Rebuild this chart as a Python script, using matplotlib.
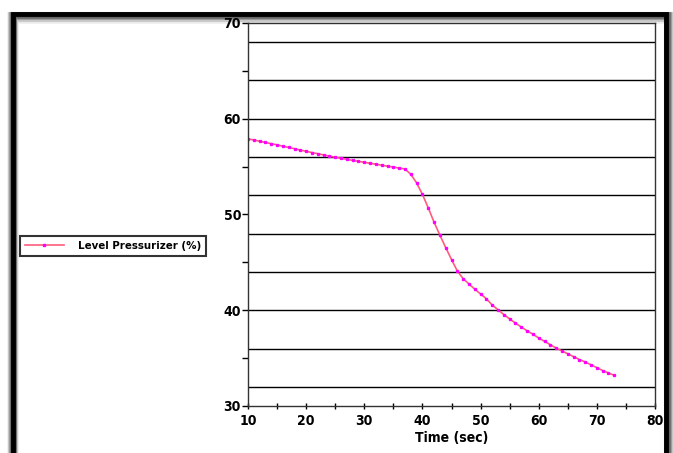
import matplotlib
matplotlib.use("Agg")
import matplotlib.pyplot as plt
from matplotlib.patches import Rectangle
from matplotlib.ticker import MultipleLocator

plt.rcParams['font.family'] = ['DejaVu Sans']
plt.rcParams['font.stretch'] = 'condensed'
plt.rcParams['font.weight'] = 'bold'

# Pressurizer level over time
time_sec = list(range(10, 74))
level_pct = [
    57.90, 57.78, 57.65, 57.52, 57.40, 57.27, 57.13, 57.00, 56.87, 56.73,
    56.60, 56.47, 56.35, 56.22, 56.10, 55.98, 55.87, 55.76, 55.65, 55.55,
    55.45, 55.35, 55.25, 55.15, 55.05, 54.95, 54.85, 54.75, 54.20, 53.30,
    52.10, 50.70, 49.20, 47.85, 46.55, 45.30, 44.10, 43.30, 42.75, 42.20,
    41.70, 41.20, 40.55, 40.05, 39.55, 39.10, 38.65, 38.25, 37.85, 37.50,
    37.10, 36.75, 36.40, 36.05, 35.75, 35.45, 35.15, 34.85, 34.60, 34.30,
    34.00, 33.70, 33.45, 33.20,
]
series_name = "Level Pressurizer (%)"
x_label = "Time (sec)"
grid_levels = [32, 36, 40, 44, 48, 52, 56, 60, 64, 68]

W, H = 673, 453
fig = plt.figure(figsize=(W / 100, H / 100), dpi=100)
fig.patch.set_facecolor('white')

# outer frame with soft shadow
for off, a in [(4, 0.08), (3, 0.14), (2, 0.22), (1, 0.35)]:
    fig.add_artist(Rectangle((13 / W, -0.1), (653 + off) / W, (439 + 0.1 * H - off) / H,
                             transform=fig.transFigure, fill=False,
                             edgecolor='black', alpha=a, linewidth=3.5 + off * 1.2))
fig.add_artist(Rectangle((13 / W, -0.1), 653 / W, (439 + 0.1 * H) / H,
                         transform=fig.transFigure, fill=False,
                         edgecolor='black', linewidth=3.5))

ax = fig.add_axes([248 / W, 1 - 406 / H, 407 / W, 383 / H])
ax.plot(time_sec, level_pct, color='#ff5c7c', linewidth=1.2,
        marker='s', markersize=1.4, markerfacecolor='#ff00ff',
        markeredgecolor='#ff00ff', label=series_name)

for g in grid_levels:
    ax.axhline(g, color='black', linewidth=1.0, zorder=0)

ax.set_xlim(10, 80)
ax.set_ylim(30, 70)
ax.xaxis.set_major_locator(MultipleLocator(10))
ax.xaxis.set_minor_locator(MultipleLocator(5))
ax.yaxis.set_major_locator(MultipleLocator(10))
ax.yaxis.set_minor_locator(MultipleLocator(5))
ax.tick_params(which='both', direction='inout', length=5, width=1, labelsize=10)
ax.tick_params(axis='y', which='both', direction='out', length=4)
ax.tick_params(axis='y', pad=1)
for lbl in ax.get_xticklabels() + ax.get_yticklabels():
    lbl.set_fontweight('bold')
for s in ax.spines.values():
    s.set_linewidth(1.0)
    s.set_color('#333333')

ax.set_xlabel(x_label, fontsize=10, fontweight='bold', labelpad=2)

leg = fig.legend(loc='center left', bbox_to_anchor=(20 / W, 1 - 246 / H),
                 frameon=True, fancybox=False, fontsize=8.2, handlelength=3.5,
                 handletextpad=1.2, borderpad=0.4, borderaxespad=0,
                 markerscale=1.5)
leg.get_frame().set_edgecolor('black')
leg.get_frame().set_linewidth(1.5)
for t in leg.get_texts():
    t.set_fontweight('bold')

fig.savefig('out.png', dpi=100)
